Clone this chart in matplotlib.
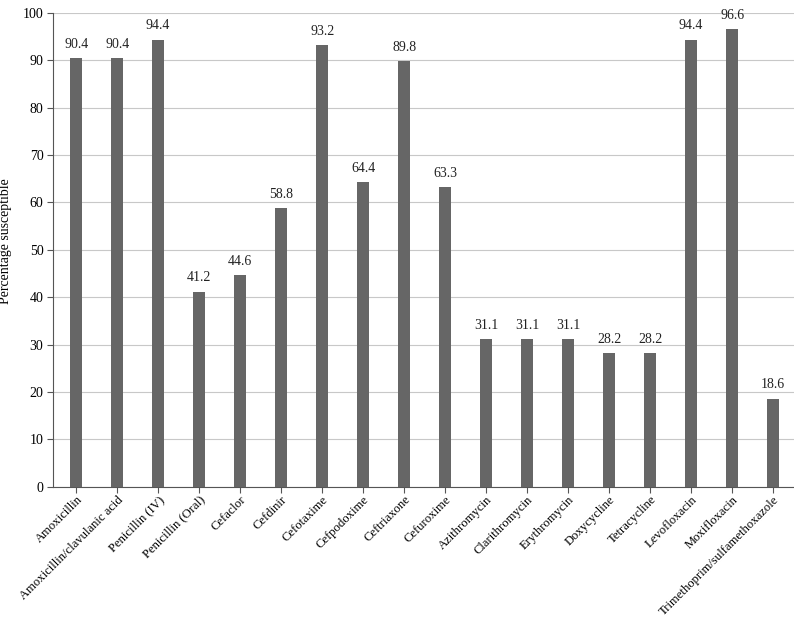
import matplotlib
matplotlib.use('Agg')
import matplotlib.pyplot as plt

plt.rcParams['font.family'] = ['Liberation Serif', 'DejaVu Serif']

drugs = ['Amoxicillin', 'Amoxicillin/clavulanic acid', 'Penicillin (IV)', 'Penicillin (Oral)',
         'Cefaclor', 'Cefdinir', 'Cefotaxime', 'Cefpodoxime', 'Ceftriaxone', 'Cefuroxime',
         'Azithromycin', 'Clarithromycin', 'Erythromycin', 'Doxycycline', 'Tetracycline',
         'Levofloxacin', 'Moxifloxacin', 'Trimethoprim/sulfamethoxazole']
susceptible = [90.4, 90.4, 94.4, 41.2, 44.6, 58.8, 93.2, 64.4, 89.8, 63.3,
               31.1, 31.1, 31.1, 28.2, 28.2, 94.4, 96.6, 18.6]
yticks = list(range(0, 101, 10))

fig = plt.figure(figsize=(7.94, 6.2), dpi=100)
ax = fig.add_axes([0.067, 0.215, 0.933, 0.764])

x = list(range(len(drugs)))
ax.bar(x, susceptible, width=0.3, color='#666666', zorder=3)
for xi, v in zip(x, susceptible):
    ax.text(xi, v + 1.5, f'{v:.1f}', ha='center', va='bottom', fontsize=10, color='#222222')

ax.set_xlim(-0.56, len(drugs) - 0.49)
ax.set_ylim(0, 100)
ax.set_yticks(yticks)
ax.set_xticks(x)
ax.set_xticklabels(drugs, rotation=45, ha='right', rotation_mode='anchor', fontsize=9.1)
ax.tick_params(axis='y', labelsize=10, length=4, color='#555555', pad=3)
ax.tick_params(axis='x', length=4, color='#555555', pad=1)
ax.yaxis.grid(True, color='#c8c8c8', linewidth=0.8, zorder=0)
ax.set_ylabel('Percentage susceptible', fontsize=10)
ax.yaxis.set_label_coords(-0.055, 0.518)

for s in ['top', 'right']:
    ax.spines[s].set_visible(False)
for s in ['left', 'bottom']:
    ax.spines[s].set_color('#555555')

fig.savefig('out.png', dpi=100)
